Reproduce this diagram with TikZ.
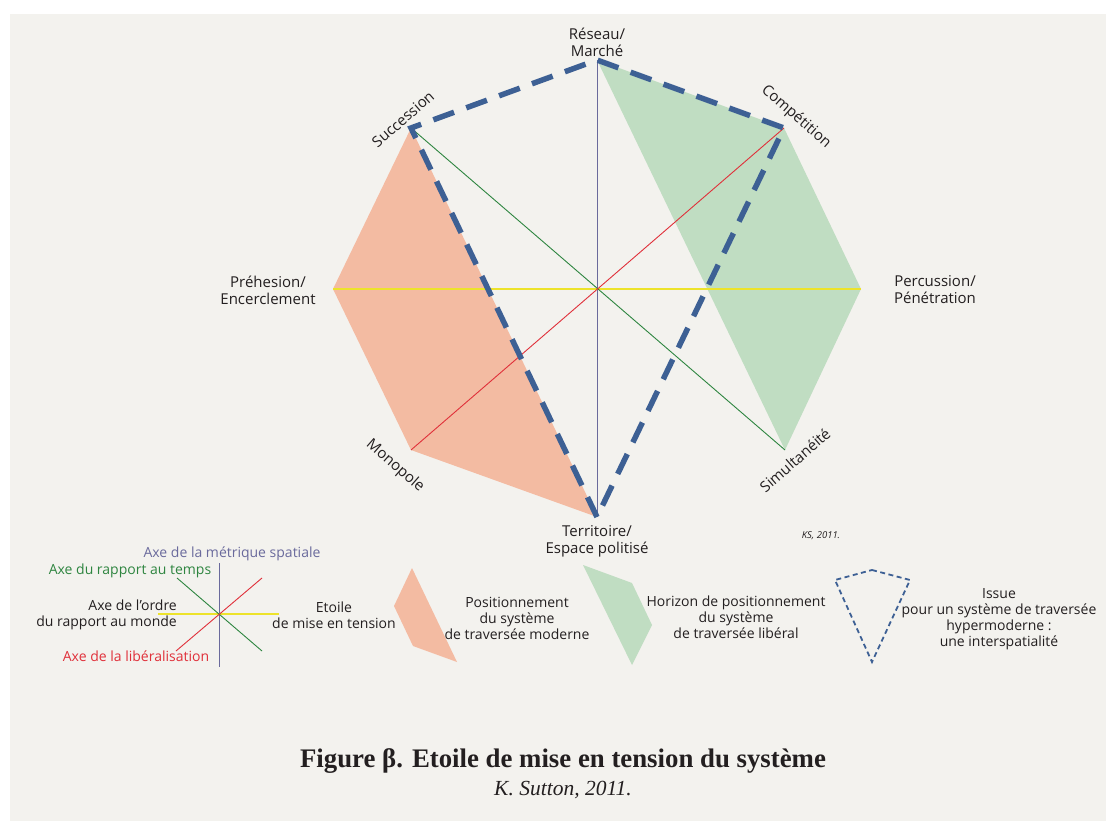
\documentclass[tikz,border=0pt]{standalone}
\usepackage{fontspec}
\setmainfont{Open Sans}
\newfontfamily\titlefont{Liberation Serif}
\usetikzlibrary{positioning}

\definecolor{fond}{HTML}{F3F2EE}
\definecolor{saumon}{HTML}{F3BBA2}
\definecolor{vertpale}{HTML}{C0DDC2}
\definecolor{bleuissue}{HTML}{3D6094}
\definecolor{axemetrique}{HTML}{6A6A9C}
\definecolor{axetemps}{HTML}{2E8540}
\definecolor{axeliber}{HTML}{E0303A}
\definecolor{axeordre}{HTML}{EDE32A}
\definecolor{texte}{HTML}{231F20}

\tikzset{
  pole/.style={text=texte, font=\fontsize{15}{17}\selectfont, align=center, inner sep=0pt},
  legende/.style={text=texte, font=\fontsize{14}{16}\selectfont, align=center, inner sep=0pt},
  axe/.style={line width=0.9pt},
  issue/.style={bleuissue, line width=5.5pt, dash pattern=on 22pt off 13pt},
  issuepetit/.style={bleuissue, line width=1.8pt, dash pattern=on 5pt off 3.5pt}
}

\begin{document}
\begin{tikzpicture}[x=1pt,y=-1pt]
\useasboundingbox (0,0) rectangle (1106,821);
\fill[white] (0,0) rectangle (1106,821);
\fill[fond] (10,14) rectangle (1106,821);

% Poles of the star
\coordinate (centre) at (597,289);
\coordinate (reseau) at (597,60);
\coordinate (territoire) at (597,517);
\coordinate (prehesion) at (333,289);
\coordinate (percussion) at (861,289);
\coordinate (succession) at (411,128);
\coordinate (competition) at (784,128);
\coordinate (monopole) at (411,450);
\coordinate (simultaneite) at (785,450);

% Positionings
\fill[saumon] (succession) -- (prehesion) -- (monopole) -- (territoire) -- cycle;
\fill[vertpale] (reseau) -- (competition) -- (percussion) -- (simultaneite) -- cycle;

% Axes
\draw[axe, axemetrique] (reseau) -- (territoire);
\draw[axe, axeordre, line width=1.2pt] (prehesion) -- (percussion);
\draw[axe, axetemps] (succession) -- (simultaneite);
\draw[axe, axeliber] (monopole) -- (competition);

% Issue
\draw[issue] (territoire) -- (succession) -- (reseau) -- (competition) -- cycle;

% Labels of the poles
\node[pole] (lreseau) at (597,42) {Réseau/\\Marché};
\node[pole] (lterritoire) at (597,541) {Territoire/\\Espace politisé};
\node[pole] (lprehesion) at (268,290) {Préhesion/\\Encerclement};
\node[pole] (lpercussion) at (935,290) {Percussion/\\Pénétration};
\node[pole, rotate=41] (lsuccession) at (403,119) {Succession};
\node[pole, rotate=-41] (lcompetition) at (796,117) {Compétition};
\node[pole, rotate=-41] (lmonopole) at (395,466) {Monopole};
\node[pole, rotate=41] (lsimultaneite) at (795,460) {Simultanéité};
\node[pole, font=\itshape\fontsize{9.5}{10}\selectfont] (ks) at (821,536) {KS, 2011.};

% Legend: axes
\coordinate (lc) at (219,614);
\draw[axe, axemetrique] (219,563) -- (219,667);
\draw[axe, axeordre, line width=1.2pt] (158,614) -- (279,614);
\draw[axe, axetemps] (177,578) -- (262,651);
\draw[axe, axeliber] (262,578) -- (176,651);
\node[legende, text=axemetrique] (lmetrique) at (232,554) {Axe de la métrique spatiale};
\node[legende, text=axetemps] (ltemps) at (130,571) {Axe du rapport au temps};
\node[legende, align=right, anchor=east] (lordre) at (177,615) {Axe de l’ordre\\du rapport au monde};
\node[legende, text=axeliber] (lliber) at (136,656) {Axe de la libéralisation};
\node[legende] (letoile) at (334,615) {Etoile\\de mise en tension};

% Legend: shapes
\fill[saumon] (412,568) -- (394,606) -- (413,646) -- (457,662) -- cycle;
\node[legende] (lmoderne) at (517,618) {Positionnement\\du système\\de traversée moderne};
\fill[vertpale] (583,565) -- (632,583) -- (652,625) -- (632,665) -- cycle;
\node[legende] (lliberal) at (736,617) {Horizon de positionnement\\du système\\de traversée libéral};
\draw[issuepetit] (872,570) -- (910,580) -- (872,662) -- (835,580) -- cycle;
\node[legende] (lhyper) at (999,619) {Issue\\pour un système de traversée\\hypermoderne :\\une interspatialité};

% Caption
\node[inner sep=0pt, font=\titlefont\bfseries\fontsize{26.8}{30}\selectfont, text=texte] (titre) at (563,761) {Figure β. Etoile de mise en tension du système};
\node[inner sep=0pt, font=\titlefont\itshape\fontsize{21.5}{24}\selectfont, text=texte, below=7pt of titre] (auteur) {K. Sutton, 2011.};
\end{tikzpicture}
\end{document}
